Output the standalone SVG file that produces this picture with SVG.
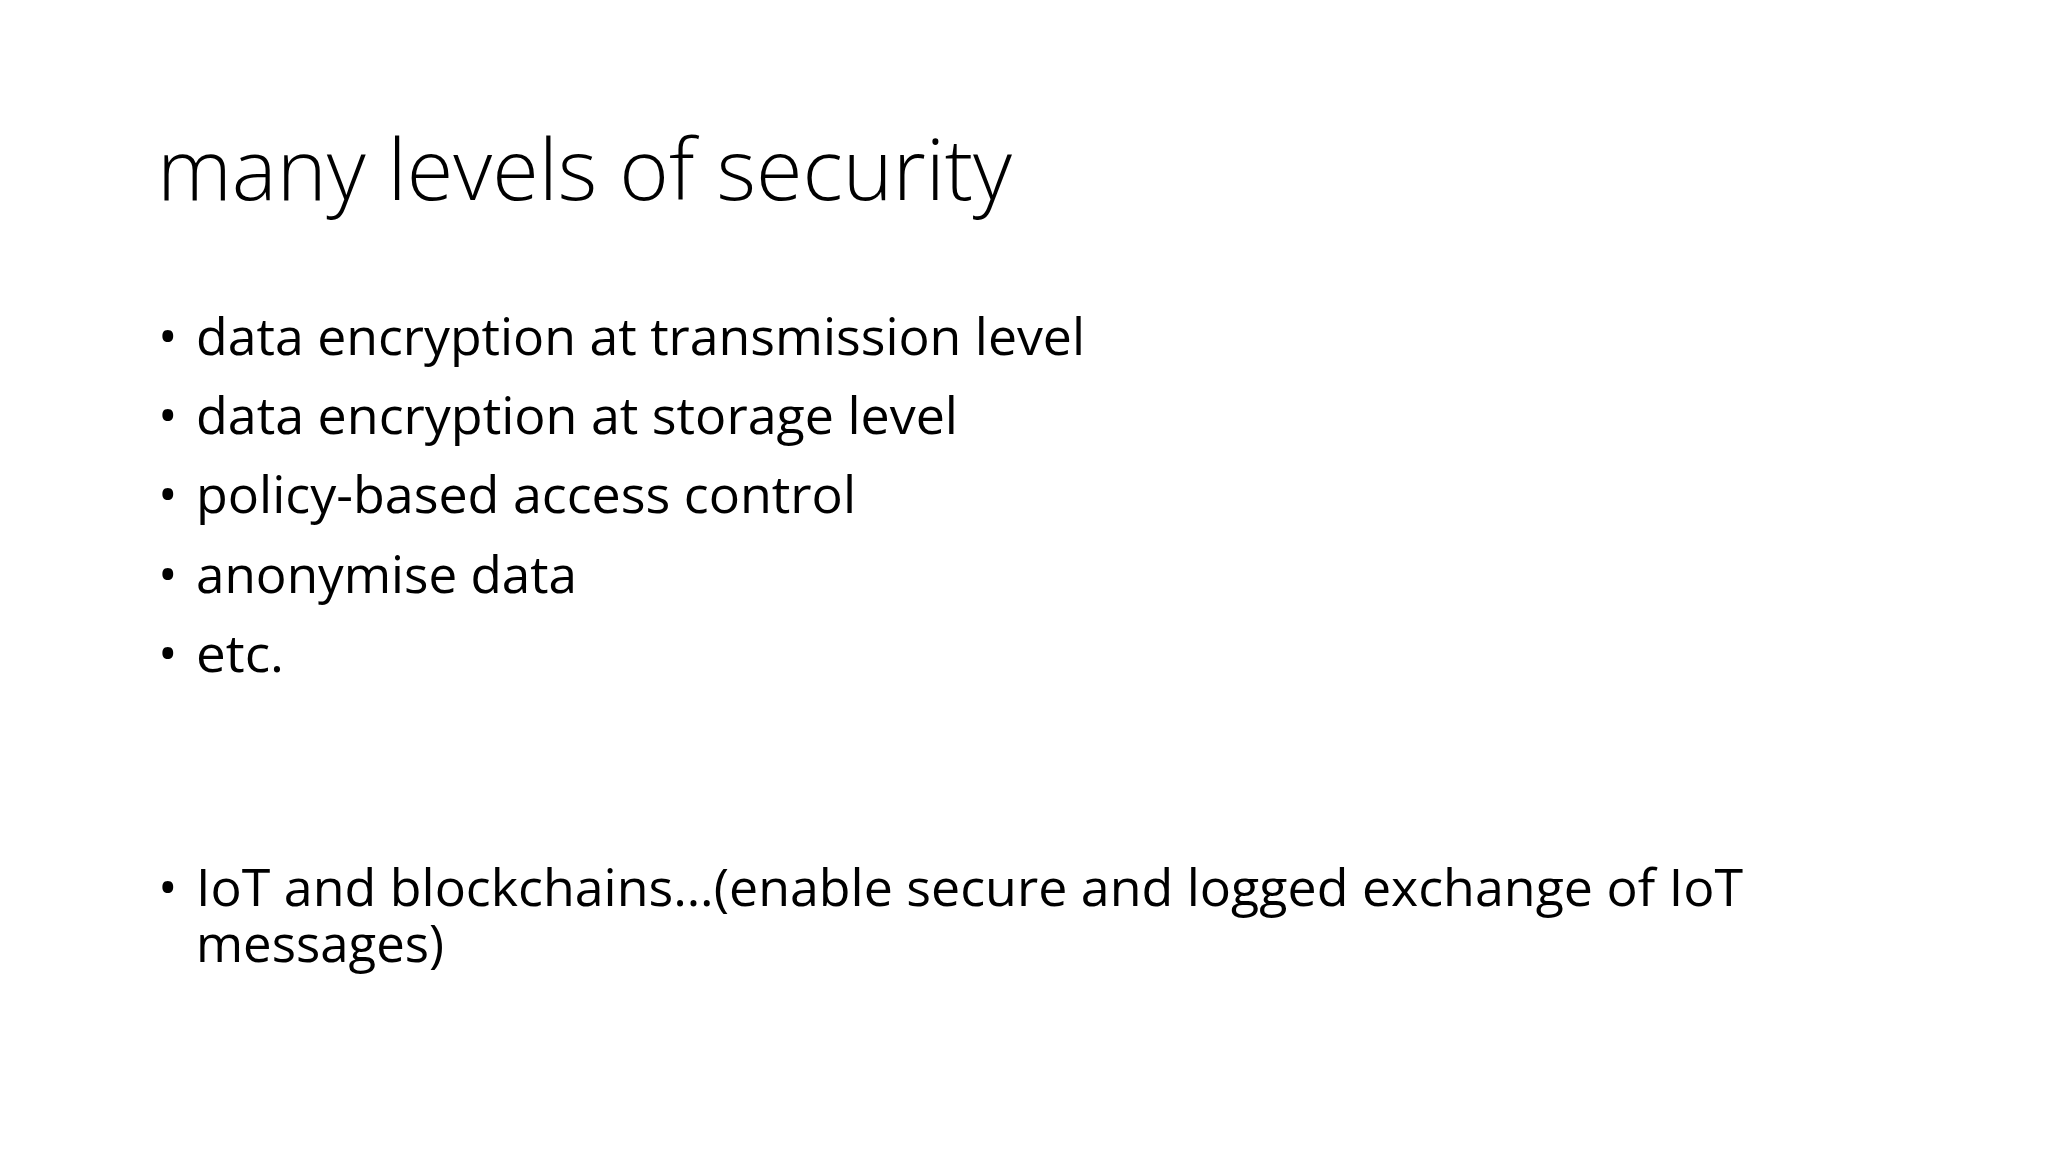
<svg xmlns="http://www.w3.org/2000/svg" width="2048" height="1152" viewBox="0 0 2048 1152">
<style>
.t{font-family:"Open Sans","Liberation Sans",sans-serif;font-weight:300;font-size:84px;fill:#000}
.b{font-family:"Open Sans","Liberation Sans",sans-serif;font-size:52px;fill:#000}
</style>
<rect width="2048" height="1152" fill="#fff"/>
<g id="title"><text class="t" x="157" y="200" textLength="855" lengthAdjust="spacingAndGlyphs">many levels of security</text></g>
<g id="bullets">
<text class="b" x="158" y="355">•</text>
<text class="b" x="196" y="355" textLength="889" lengthAdjust="spacingAndGlyphs">data encryption at transmission level</text>
<text class="b" x="158" y="434">•</text>
<text class="b" x="196" y="434" textLength="762" lengthAdjust="spacingAndGlyphs">data encryption at storage level</text>
<text class="b" x="158" y="513">•</text>
<text class="b" x="196" y="513" textLength="660" lengthAdjust="spacingAndGlyphs">policy-based access control</text>
<text class="b" x="158" y="593">•</text>
<text class="b" x="196" y="593" textLength="381" lengthAdjust="spacingAndGlyphs">anonymise data</text>
<text class="b" x="158" y="672">•</text>
<text class="b" x="196" y="672" textLength="88" lengthAdjust="spacingAndGlyphs">etc.</text>
<text class="b" x="158" y="906">•</text>
<text class="b" x="196" y="906" textLength="1547" lengthAdjust="spacingAndGlyphs">IoT and blockchains…(enable secure and logged exchange of IoT</text>
<text class="b" x="196" y="962" textLength="248" lengthAdjust="spacingAndGlyphs">messages)</text>
</g>
</svg>
